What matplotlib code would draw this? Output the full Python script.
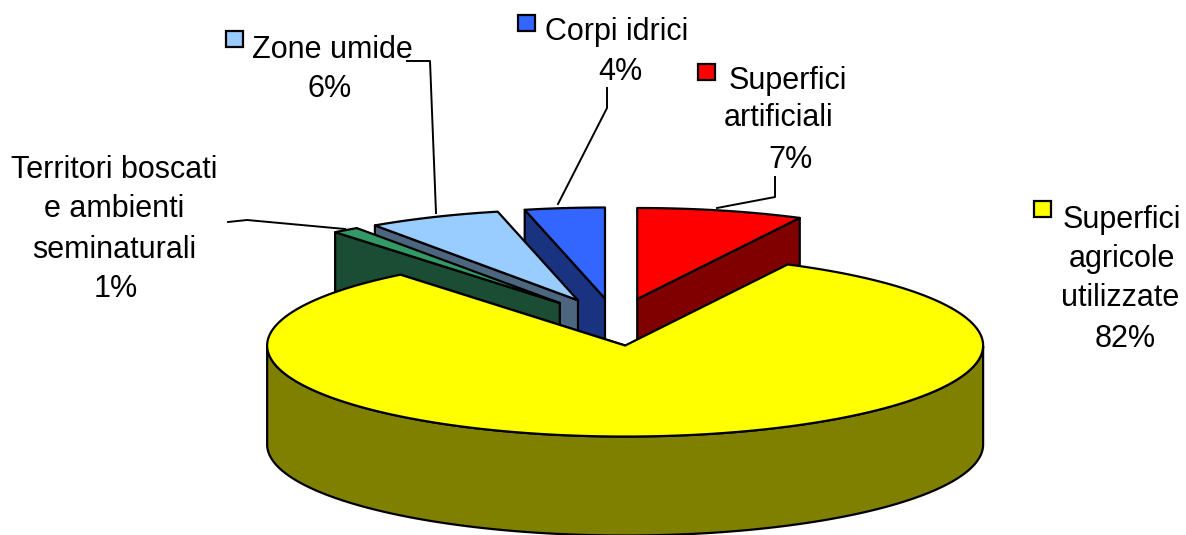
import numpy as np
import matplotlib
matplotlib.use("Agg")
import matplotlib.pyplot as plt
from matplotlib.patches import Polygon, Rectangle

plt.rcParams["font.family"] = ["Liberation Sans", "DejaVu Sans"]

# slices clockwise from 12 o'clock
names = ["Superfici artificiali", "Superfici agricole utilizzate",
         "Territori boscati e ambienti seminaturali", "Zone umide", "Corpi idrici"]
shares = [7.5, 81.7, 1.2, 6.0, 3.6]
top_cols = ["#FF0000", "#FFFF00", "#339966", "#99CCFF", "#3366FF"]
side_cols = ["#800000", "#808000", "#1A4D33", "#4D6680", "#1A3380"]

# (text, x centre, y centre) in pixels
label_lines = [
    ("Zone umide", 332, 50), ("6%", 330, 89),
    ("Corpi idrici", 617, 32), ("4%", 620, 72),
    ("Superfici", 788, 81), ("artificiali", 779, 118), ("7%", 790, 160),
    ("Territori boscati", 114, 170), ("e ambienti", 114, 209),
    ("seminaturali", 114, 250), ("1%", 116, 289),
    ("Superfici", 1122, 220), ("agricole", 1122, 259),
    ("utilizzate", 1120, 298), ("82%", 1125, 339),
]
key_cols = ["#99CCFF", "#3366FF", "#FF0000", "#FFFF00"]
key_xy = [(226, 31), (518, 15), (698, 64), (1034, 201)]
leaders = [
    [(407, 61), (430, 61), (436, 213)],
    [(607, 88), (607, 108), (558, 204)],
    [(775, 177), (775, 197), (717, 208)],
    [(228, 222), (247, 220), (345, 229)],
]

# pie geometry in pixels
CX, CY = 615.5, 322.0
RX, RY = 358.0, 91.0
EXPLODE = 0.26
DEPTH = 99.0

fig = plt.figure(figsize=(11.86, 5.35), dpi=100)
ax = fig.add_axes([0, 0, 1, 1])
ax.set_xlim(0, 1186)
ax.set_ylim(535, 0)
ax.axis("off")

edges = 90 - np.cumsum([0] + shares) * 3.6


def draw_slice(i, z):
    t0, t1 = edges[i], edges[i + 1]
    mid = np.radians((t0 + t1) / 2)
    ox = CX + EXPLODE * RX * np.cos(mid)
    oy = CY - EXPLODE * RY * np.sin(mid)
    t = np.radians(np.linspace(t0, t1, 200))
    rx = ox + RX * np.cos(t)
    ry = oy - RY * np.sin(t)
    kw = dict(ec="black", lw=1.6, joinstyle="round", zorder=z)
    # only the radial wall turned towards the viewer shows
    k = 0 if abs(np.cos(t[0])) > abs(np.cos(t[-1])) else -1
    wall = [(ox, oy), (rx[k], ry[k]), (rx[k], ry[k] + DEPTH), (ox, oy + DEPTH)]
    ax.add_patch(Polygon(wall, fc=side_cols[i], **kw))
    front = np.sin(t) <= 0
    if front.any():
        fx, fy = rx[front], ry[front]
        outer = np.r_[np.c_[fx, fy], np.c_[fx, fy + DEPTH][::-1]]
        ax.add_patch(Polygon(outer, fc=side_cols[i], **kw))
    pts = np.r_[[(ox, oy)], np.c_[rx, ry]]
    ax.add_patch(Polygon(pts, fc=top_cols[i], **kw))


# back to front
for z, i in enumerate([4, 0, 3, 2, 1]):
    draw_slice(i, 2 + z)

for xy in leaders:
    xs, ys = zip(*xy)
    ax.plot(xs, ys, color="black", lw=1.4, zorder=10)

for col, (x, y) in zip(key_cols, key_xy):
    ax.add_patch(Rectangle((x, y), 17, 16, fc=col, ec="black", lw=1.6, zorder=10))

for s, x, y in label_lines:
    ax.text(x, y, s, ha="center", va="center", fontsize=22, color="black", zorder=11)

fig.savefig("out.png", dpi=100)
